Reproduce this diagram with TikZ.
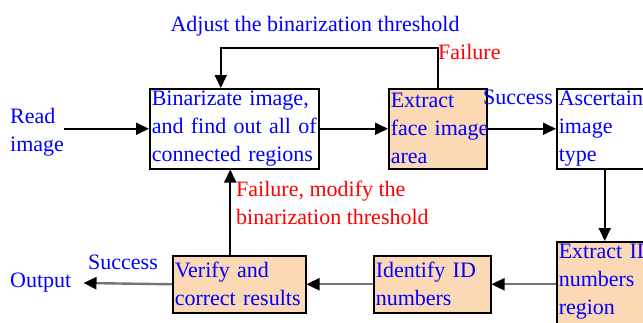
\documentclass[tikz,border=0pt]{standalone}
\usepackage{fontspec}
\setmainfont{Liberation Serif}
\usetikzlibrary{arrows.meta,
                positioning}
\definecolor{peach}{RGB}{252,217,181}
\tikzset{
  box/.style={draw, line width=1.5pt, align=left, inner sep=2pt, text=blue,
              font=\fontsize{22}{28}\selectfont, anchor=north west},
  peachbox/.style={box, fill=peach},
  lbl/.style={text=blue, font=\fontsize{22}{28}\selectfont, inner sep=0pt, align=left},
  redlbl/.style={lbl, text=red},
  arr/.style={line width=1.8pt, -{Triangle[length=13pt,width=12pt]}},
  grayarr/.style={draw=black!55, line width=2.4pt, -{Triangle[length=13pt,width=12pt,color=black]}}
}
\begin{document}
\begin{tikzpicture}[x=1pt, y=-1pt]
 \useasboundingbox (0,0) rectangle (643,322);
 \node[box, minimum width=169pt, minimum height=80pt, text width=165pt] (bin) at (149,88)
   {Binarizate image,\\and find out all of\\connected regions};
 \node[peachbox, minimum width=98pt, minimum height=80pt, text width=94pt] (face) at (388,88)
   {Extract\\\mbox{face image}\\area};
 \node[box, minimum width=96pt, minimum height=80pt, text width=92pt] (asc) at (556,88)
   {Ascertain\\image\\type};
 \node[peachbox, minimum width=96pt, text width=92pt] (idbox) at (556,241)
   {\mbox{Extract ID}\\numbers\\region\\\mbox{}};
 \node[peachbox, minimum width=117pt, minimum height=57pt, text width=113pt] (ident) at (373,255)
   {\mbox{Identify ID}\\numbers};
 \node[peachbox, minimum width=133pt, minimum height=57pt, text width=129pt] (verify) at (172,255)
   {Verify and\\correct results};
 \node[lbl, anchor=west] (read) at (10,132) {Read\\image};
 \node[lbl, anchor=west] (output) at (10,283) {Output};
 \node[lbl, anchor=north] (adjust) at (315,16) {Adjust the binarization threshold};
 \node[redlbl, anchor=west] (fail) at (438,52) {Failure};
 \node[lbl, anchor=west] (succ) at (483,97) {Success};
 \node[lbl, anchor=west] (succout) at (88,262) {Success};
 \node[redlbl, anchor=north west] (modify) at (236,181) {Failure, modify the\\binarization threshold};

 \draw[arr] (read.east |- bin.west) -- (bin.west);
 \draw[arr] (bin.east) -- (face.west |- bin.east);
 \draw[arr] (face.east) -- (asc.west |- face.east);
 \draw[arr] (face.north) -- ++(0,-40) -| ([xshift=-13.5pt]bin.north);
 \draw[arr] (asc.south) -- (idbox.north);
 \draw[grayarr] (ident.east -| idbox.west) -- (ident.east);
 \draw[grayarr] (ident) -- (verify);
 \draw[grayarr] (verify.west) -- ([xshift=12pt]output.east);
 \draw[arr] ([xshift=-9pt]verify.north) -- ([xshift=-9pt]verify.north |- bin.south);
\end{tikzpicture}
\end{document}
